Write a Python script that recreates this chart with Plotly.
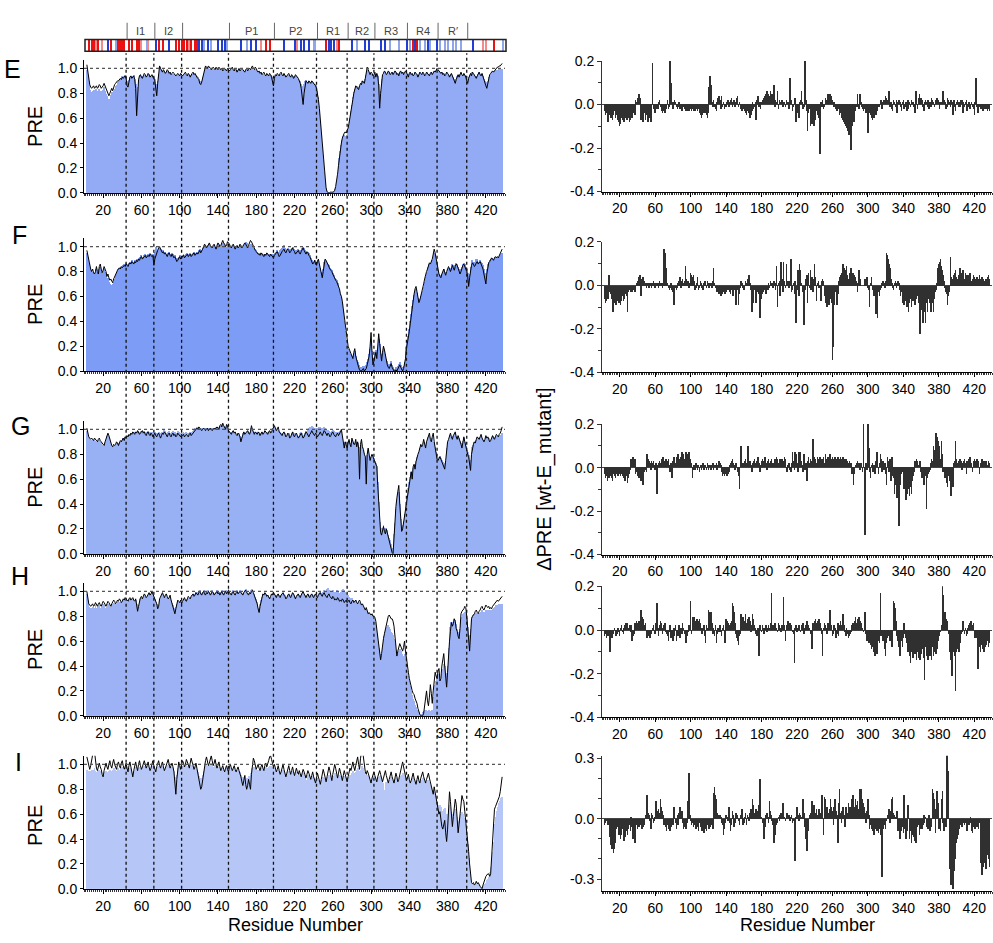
import plotly.graph_objects as go

# ---------------- DATA (values in hundredths, residues start at 3) ----------------
START_RES = 3
GAPS = [159, 177, 182, 188, 219, 233, 365]
BOUNDS = [44, 73, 102, 151, 198, 243, 275, 303, 337, 369, 400]
DOMAIN_LABELS = ["I1", "I2", "", "P1", "P2", "R1", "R2", "R3", "R4", "R\u2032"]
PANEL_LETTERS = ["E", "F", "G", "H", "I"]

RED = [4, 7, 10, 14, 27, 35, 37, 39, 41, 46, 49, 54, 57, 77, 82, 95, 98, 101, 104, 107, 111, 115, 117, 189, 193, 252, 266, 343, 347, 428]
LIGHT_RED = [12, 18, 59, 66, 109, 184, 222, 264, 416, 419]
BLUE = [24, 74, 88, 119, 122, 129, 139, 143, 146, 163, 174, 179, 208, 220, 226, 229, 234, 255, 257, 260, 279, 293, 297, 310, 314, 337, 345, 359, 368, 406]
LIGHT_BLUE = [32, 65, 125, 132, 149, 169, 239, 241, 284, 319, 328, 340, 350, 355, 361, 371, 376, 380, 385, 388, 393, 437]

LINE_E = [
103,97,92,87,85,84,85,86,84,85,
86,84,85,87,86,84,85,86,88,86,
84,82,80,78,80,83,84,82,85,87,
88,89,90,90,91,92,91,93,92,93,
94,92,86,85,90,93,94,92,93,94,
91,84,62,80,91,94,95,93,92,94,
96,95,93,94,96,95,93,94,95,93,
92,90,84,78,88,96,102,100,98,97,
99,98,96,97,99,98,96,97,95,96,
97,96,95,94,95,96,95,94,96,95,
94,95,96,97,95,94,96,95,93,95,
96,97,95,96,94,93,92,91,88,87,
89,93,97,100,102,101,100,102,101,100,
99,100,101,100,99,101,100,99,101,100,
99,100,98,99,100,99,98,100,99,98,
99,100,101,99,98,100,99,97,99,100,
98,99,100,99,98,97,99,100,98,99,
100,99,101,102,100,99,101,100,98,97,
98,96,97,95,96,97,95,94,96,95,
94,96,95,93,90,86,92,95,94,96,
95,94,96,97,95,94,96,95,93,94,
95,96,94,93,95,94,92,93,95,94,
93,92,90,88,84,78,71,80,88,90,
89,88,90,89,88,90,89,88,87,86,
84,80,75,68,58,48,38,28,18,10,
4,1,0,0,0,0,0,0,1,2,
5,9,15,22,30,36,40,44,47,48,
49,48,50,52,56,60,65,70,75,80,
83,86,85,84,83,86,88,87,90,89,
88,92,96,101,99,96,95,97,96,94,
95,97,93,96,94,86,68,80,92,95,
96,98,97,95,96,98,97,95,96,97,
95,96,98,97,95,96,94,97,98,96,
97,95,96,98,97,95,93,96,97,95,
96,94,95,97,96,95,93,95,97,96,
95,97,96,94,95,97,96,95,94,96,
97,95,96,98,97,99,100,99,98,97,
96,97,95,96,94,95,97,96,95,93,
95,96,94,92,90,88,91,94,95,93,
96,97,95,94,96,95,93,90,88,92,
95,96,94,97,96,95,93,92,94,96,
97,95,94,96,93,90,88,86,84,88,
92,95,96,97,98,97,98,99,100,101,
101,102,102,103,104]

BAR_E = [
99,95,88,83,81,80,82,83,80,82,
84,80,82,84,82,80,82,83,85,82,
80,78,76,73,76,79,81,79,82,84,
86,87,88,89,90,91,92,94,93,94,
95,93,90,88,91,93,94,93,94,95,
92,88,76,85,92,94,95,94,93,94,
95,95,94,94,95,96,94,94,95,94,
93,92,88,84,90,96,101,99,98,97,
98,98,97,97,98,98,97,97,96,96,
96,96,95,95,95,96,95,95,96,95,
95,95,96,96,95,95,96,95,94,95,
96,96,95,96,95,94,93,92,90,89,
90,93,96,99,101,100,100,101,100,100,
100,100,100,100,99,100,100,99,100,100,
99,99,98,99,100,99,98,99,99,98,
99,99,100,99,98,99,99,98,99,99,
98,99,99,99,98,98,99,99,98,99,
99,99,100,100,99,99,100,99,98,97,
97,96,97,95,96,96,95,95,96,95,
95,95,95,93,91,89,92,94,94,95,
95,94,95,96,95,94,95,95,94,94,
95,95,94,93,94,94,93,93,94,94,
93,92,91,90,88,86,84,88,90,91,
90,89,90,89,89,90,89,88,88,87,
86,82,77,68,58,48,38,27,17,9,
4,2,1,1,1,2,2,1,2,3,
5,9,14,20,28,34,39,43,46,47,
46,45,47,50,55,60,66,71,77,81,
84,86,86,85,84,86,88,88,90,90,
90,92,95,99,98,96,95,96,96,95,
95,96,94,95,94,88,70,82,92,95,
96,97,97,96,96,97,97,96,96,97,
96,96,97,97,96,96,95,97,97,96,
97,96,96,97,97,96,95,96,97,96,
96,95,95,97,96,96,95,95,97,96,
96,97,96,95,95,97,96,96,95,96,
97,96,96,97,97,98,99,99,98,97,
96,97,96,96,95,95,97,96,95,94,
95,96,95,93,92,91,92,94,95,94,
96,96,95,95,96,95,94,92,91,93,
95,96,95,97,96,95,94,93,94,96,
97,96,95,96,94,92,90,89,88,90,
93,95,96,97,98,97,98,98,99,99,
99,100,100,100,100]

LINE_F = [
97,93,88,84,82,80,82,79,78,80,
84,80,78,84,86,82,79,81,84,82,
80,76,78,75,73,74,72,71,74,76,
78,80,81,82,83,82,84,83,84,85,
84,86,85,84,86,87,86,88,87,86,
88,87,89,88,90,89,91,92,90,91,
92,93,91,92,93,92,94,93,92,93,
85,90,93,95,97,99,100,98,96,95,
96,94,95,93,92,94,95,93,92,94,
93,91,92,90,88,89,91,92,90,91,
92,93,91,92,93,94,92,93,94,92,
93,94,95,93,94,95,94,96,97,95,
96,98,100,102,101,99,100,102,103,101,
100,99,101,102,100,98,101,103,102,100,
101,104,105,103,102,100,101,104,103,102,
100,99,101,102,100,98,100,101,99,100,
102,101,99,100,101,103,102,100,99,101,
103,105,104,102,100,98,97,96,95,94,
94,93,95,94,93,92,94,93,95,94,
93,92,94,93,92,91,93,94,95,96,
94,92,93,95,96,97,98,96,95,97,
98,97,95,96,98,99,97,96,94,95,
96,97,95,94,96,98,99,97,95,94,
96,95,93,92,90,88,86,87,89,86,
85,88,90,86,82,78,75,80,88,90,
89,87,85,84,82,81,80,78,76,74,
73,72,70,68,66,62,60,56,50,42,
35,28,22,20,18,16,14,12,10,15,
18,12,8,5,3,1,0,0,1,2,
0,1,2,5,8,12,20,31,15,5,
8,12,15,10,18,30,22,12,8,15,
20,17,12,8,5,3,2,4,6,3,
1,0,0,1,0,2,4,5,3,1,
0,2,5,10,18,22,25,32,38,45,
52,58,62,66,68,64,58,55,57,60,
62,65,70,74,78,80,82,85,87,86,
88,90,94,98,95,90,85,80,78,76,
75,78,80,82,79,77,80,83,84,82,
80,82,85,83,81,84,86,85,83,80,
78,80,83,85,86,84,82,80,76,68,
75,82,85,87,86,84,85,87,88,86,
87,88,86,84,82,78,72,70,78,84,
87,88,90,91,90,89,91,92,91,92,
91,93,94,96,98]

BAR_F = [
95,92,87,83,81,79,80,78,77,79,
82,79,77,82,84,80,77,79,82,80,
78,74,75,72,70,66,69,70,72,74,
77,79,80,82,83,82,84,84,85,86,
86,87,86,85,87,88,87,89,88,87,
89,88,90,89,91,90,92,93,91,92,
93,94,92,93,94,93,95,94,93,94,
90,96,100,97,97,99,99,98,97,96,
97,95,96,94,93,95,96,94,93,95,
94,92,93,91,90,91,92,93,91,92,
93,94,92,93,94,95,93,94,95,93,
94,95,96,94,95,96,95,97,98,96,
97,99,100,101,100,99,100,101,102,100,
100,99,100,101,100,99,100,102,101,100,
100,102,103,102,101,100,100,102,102,101,
100,99,100,101,100,99,100,100,99,100,
101,100,99,100,101,102,104,103,100,100,
101,102,102,101,100,99,98,97,96,95,
95,94,95,95,94,93,94,94,95,94,
94,93,94,94,93,92,94,95,96,97,
96,95,97,98,99,100,101,99,97,98,
99,98,97,98,99,100,99,98,96,97,
97,98,97,96,97,99,100,99,97,96,
97,96,95,93,91,89,87,88,89,87,
86,88,89,86,83,80,78,82,88,89,
88,87,86,85,83,82,81,79,77,75,
74,73,71,69,66,62,60,56,48,40,
32,25,20,18,16,14,13,12,11,14,
16,12,9,7,5,3,2,2,3,4,
3,4,5,7,10,14,18,24,16,8,
10,14,17,12,18,26,22,14,10,16,
20,18,14,10,8,6,5,6,8,5,
3,2,2,3,2,4,6,7,5,3,
2,4,7,12,19,24,28,34,40,46,
52,57,61,64,66,63,59,56,58,60,
62,64,68,72,76,79,81,84,86,86,
87,89,92,95,93,88,84,80,78,77,
76,78,80,82,80,78,80,82,83,82,
81,83,86,85,83,85,87,86,84,82,
80,82,84,86,87,86,84,82,79,74,
78,84,87,89,88,87,88,90,90,88,
88,89,88,87,85,82,79,78,82,86,
88,89,90,91,90,90,91,92,91,92,
91,92,93,94,95]

LINE_G = [
101,97,94,93,92,93,92,91,93,92,
91,90,92,93,91,90,89,88,87,90,
93,96,97,95,92,89,87,86,88,87,
88,90,89,87,89,91,90,92,93,91,
94,93,95,94,96,95,97,96,98,97,
96,98,97,99,98,96,97,98,99,97,
98,96,95,97,98,96,95,97,96,94,
96,97,95,94,96,97,95,93,95,97,
96,98,97,95,94,96,97,95,94,96,
97,95,96,94,95,97,96,95,94,96,
95,96,94,95,96,95,94,96,97,95,
96,97,98,99,100,101,100,102,101,100,
99,100,101,100,99,100,101,99,100,101,
100,99,100,101,100,101,102,101,100,103,
104,102,105,103,101,100,104,103,99,98,
97,96,98,99,97,98,96,95,97,96,
94,90,93,97,98,96,97,98,99,97,
96,98,103,100,97,96,98,97,96,98,
97,95,97,98,96,97,99,98,97,96,
98,99,97,98,100,102,103,101,99,100,
102,98,97,96,95,97,98,96,94,95,
97,96,93,94,96,98,95,94,96,97,
95,93,94,96,97,95,93,94,96,98,
97,95,94,96,97,99,98,96,95,97,
96,94,95,97,98,96,95,97,99,98,
96,95,97,96,94,95,97,98,96,95,
94,96,97,95,96,98,100,94,88,85,
90,87,85,89,92,88,86,93,90,88,
88,92,86,90,85,60,88,92,86,84,
80,78,56,80,85,78,75,78,80,78,
76,74,72,70,55,38,22,17,15,18,
22,18,16,20,17,12,10,8,4,1,
0,15,25,38,45,52,55,40,25,18,
20,25,30,35,40,45,52,58,62,66,
60,70,72,68,74,78,80,82,85,88,
86,88,92,88,85,90,93,95,97,92,
90,94,97,90,85,80,76,75,77,78,
76,74,72,70,68,75,86,90,92,95,
97,94,92,95,96,98,94,92,95,93,
90,88,85,92,94,90,86,82,80,78,
72,67,80,86,88,90,89,92,94,93,
92,94,96,93,91,90,92,95,93,94,
92,90,91,93,95,93,92,94,96,95,
94,96,97,99,102]

BAR_G = [
99,96,93,92,91,92,91,90,92,91,
90,89,91,92,90,89,88,87,87,89,
92,95,96,94,91,88,87,86,87,87,
88,89,89,88,89,90,90,92,93,92,
94,94,95,95,96,96,97,97,98,98,
97,98,98,99,98,97,98,99,99,98,
99,98,97,98,99,98,97,98,98,96,
97,98,97,96,97,98,97,95,96,98,
98,100,99,97,96,98,99,97,96,98,
99,97,98,96,97,99,98,97,96,97,
97,98,96,97,98,97,96,97,98,97,
98,99,100,101,101,102,101,102,101,101,
100,101,101,101,100,101,101,100,101,101,
101,100,101,101,101,102,102,102,101,103,
103,102,104,103,102,101,103,102,100,99,
98,97,98,99,98,98,97,96,97,97,
95,92,94,97,98,97,97,98,99,98,
97,98,101,100,98,97,98,98,97,98,
98,96,97,98,97,97,99,98,98,97,
98,99,98,98,100,101,102,101,99,100,
101,99,98,97,96,97,98,97,95,96,
97,97,95,95,97,98,96,95,97,97,
96,95,95,97,98,97,95,96,97,99,
99,100,101,102,102,103,102,101,100,101,
101,100,101,102,102,101,100,101,102,101,
100,99,100,99,98,98,99,100,99,98,
97,98,98,97,98,99,99,95,90,87,
90,88,87,89,91,89,88,92,90,89,
88,90,87,89,86,70,86,90,86,84,
81,79,65,80,84,79,77,78,79,78,
77,75,73,71,58,42,26,21,19,21,
23,21,19,21,19,15,13,11,8,5,
4,16,25,36,43,48,50,40,28,22,
23,27,32,37,42,47,53,58,62,66,
62,69,72,70,75,78,80,82,85,87,
86,88,90,88,86,89,92,94,95,92,
91,93,95,90,86,82,78,77,78,79,
77,76,74,73,71,76,85,89,92,94,
96,94,93,95,96,97,95,93,95,93,
91,89,87,91,93,90,87,84,82,80,
76,72,81,86,88,90,90,92,94,93,
93,94,95,93,92,91,92,94,93,94,
93,91,92,93,95,94,93,94,95,95,
94,95,96,96,97]

LINE_H = [
100,95,90,89,88,89,90,88,89,91,
89,88,90,91,89,88,90,92,91,89,
88,90,92,91,89,88,90,91,93,92,
90,91,93,92,94,93,91,92,94,93,
95,94,93,92,94,95,93,94,95,93,
92,94,90,84,88,93,95,96,94,96,
98,97,95,96,98,99,97,98,100,98,
97,95,93,90,86,88,94,96,98,99,
97,95,97,98,96,94,95,97,93,90,
88,85,82,86,90,93,92,91,93,90,
92,94,95,93,92,94,96,95,94,96,
97,98,96,97,99,98,97,99,100,98,
97,99,100,98,97,99,98,100,99,97,
98,100,99,97,98,99,100,98,99,97,
99,100,98,97,99,100,98,99,101,99,
98,97,99,100,98,97,99,100,98,99,
100,99,98,97,99,100,101,99,98,97,
99,98,100,101,99,97,95,93,90,86,
83,88,92,96,98,97,99,98,96,97,
95,94,96,98,97,99,98,96,95,97,
98,96,95,97,98,99,97,96,94,95,
97,98,96,95,97,99,98,96,94,96,
97,98,96,95,97,99,100,98,96,95,
97,98,96,95,97,98,96,95,97,98,
96,95,97,98,99,97,96,98,99,97,
96,95,97,98,96,95,94,96,95,93,
94,93,95,94,92,93,92,94,93,91,
92,93,91,92,93,91,90,92,93,91,
92,93,91,90,92,93,91,89,90,88,
86,85,87,84,82,83,82,81,82,80,
80,79,76,70,64,58,52,45,50,58,
62,66,70,74,78,80,81,79,78,78,
76,72,65,55,48,52,55,58,56,54,
52,55,60,52,45,40,35,30,26,22,
20,18,17,14,12,10,6,3,1,0,
0,0,2,10,18,20,12,8,15,25,
18,10,20,27,35,32,30,36,38,28,
30,40,45,50,40,30,23,35,50,60,
68,75,72,74,78,76,70,68,64,62,
70,82,84,85,86,88,87,80,70,60,
52,65,78,80,81,82,84,85,83,82,
84,85,87,88,86,85,87,89,88,87,
88,86,87,86,88,89,90,91,92,93,
92,93,94,95,96]

BAR_H = [
98,93,88,87,86,87,88,86,87,89,
87,86,88,89,87,86,88,90,89,87,
86,88,90,89,88,87,89,90,91,90,
89,90,92,91,92,92,91,92,93,92,
94,93,92,91,93,94,93,93,94,92,
91,93,90,87,89,92,94,95,94,95,
97,96,95,96,97,98,97,97,99,97,
96,94,92,90,88,89,93,95,97,98,
96,95,96,97,96,94,95,96,93,91,
89,87,86,88,90,92,92,91,92,90,
92,93,94,93,92,94,95,95,94,96,
97,98,97,98,100,100,99,100,101,99,
98,100,101,99,98,100,99,101,100,98,
99,101,100,98,99,100,101,99,100,98,
100,101,99,98,100,101,99,100,102,100,
99,98,100,101,99,98,100,101,99,100,
101,100,99,98,100,101,102,100,99,98,
100,99,101,102,100,98,96,94,92,89,
87,90,93,96,98,97,99,98,97,97,
96,95,96,98,97,99,98,97,96,97,
98,97,96,97,98,99,98,97,95,96,
97,98,97,96,97,99,98,97,95,96,
97,98,97,96,97,99,100,98,97,96,
97,98,97,96,97,98,97,96,97,98,
97,96,97,99,100,99,98,100,101,99,
100,102,103,101,100,99,100,101,100,99,
100,101,100,99,98,99,100,101,102,101,
100,99,98,97,96,95,94,95,93,92,
92,93,91,90,92,92,91,89,90,88,
86,85,86,84,83,83,82,81,81,79,
78,76,72,66,60,55,50,45,48,55,
60,64,68,70,72,73,72,70,68,67,
65,62,58,52,48,50,52,54,52,50,
48,48,50,45,40,36,32,28,24,20,
17,14,12,9,7,5,4,3,2,2,
2,3,4,5,5,4,3,4,5,4,
4,5,8,15,25,28,30,33,34,30,
30,34,38,42,40,35,30,40,55,65,
72,76,75,76,78,77,74,70,68,66,
70,78,80,82,83,84,83,79,72,65,
62,70,78,80,81,82,82,83,82,81,
82,83,84,85,84,83,84,85,85,84,
85,84,85,84,86,87,87,88,89,89,
89,90,90,90,90]

LINE_I = [
106,102,98,96,99,103,108,112,110,100,
97,95,99,101,98,96,92,90,95,99,
101,98,96,100,103,99,97,101,104,100,
98,96,100,102,99,97,101,103,99,96,
98,101,97,94,99,102,98,93,90,95,
99,102,98,95,100,103,99,96,98,101,
103,100,97,99,102,98,95,97,100,103,
99,96,94,98,101,103,99,97,100,102,
98,95,97,100,103,104,100,97,99,101,
98,94,85,76,88,98,102,99,96,100,
103,101,98,100,104,102,99,97,101,105,
102,99,96,98,101,97,93,88,84,80,
82,88,95,99,103,106,102,99,101,104,
107,103,99,101,104,100,97,99,102,98,
95,97,99,96,94,97,99,96,94,98,
100,97,95,97,99,96,94,96,98,95,
93,90,86,83,87,91,84,80,83,88,
84,80,92,100,105,103,99,96,98,100,
97,95,98,100,97,95,99,101,98,100,
103,106,107,104,101,98,100,97,94,96,
99,95,92,94,97,100,96,93,90,93,
96,99,95,92,95,98,94,91,94,97,
94,92,95,93,90,93,96,94,91,89,
92,95,93,90,88,91,94,90,87,85,
89,93,90,86,84,88,92,96,93,89,
86,90,94,98,95,91,87,92,96,100,
97,93,89,93,97,94,90,87,91,95,
92,88,86,90,94,97,95,99,102,98,
95,99,103,106,100,96,105,110,114,106,
98,94,92,95,93,90,88,85,89,92,
94,91,88,86,90,93,95,92,88,86,
89,92,95,91,87,85,88,91,94,90,
87,85,89,93,90,86,88,92,96,99,
102,98,94,90,87,89,92,88,85,87,
90,93,89,86,84,88,91,87,85,89,
92,94,90,87,85,88,91,93,89,86,
84,80,76,82,78,72,68,64,60,62,
55,50,48,52,55,45,38,48,62,78,
70,60,50,58,65,72,68,55,45,52,
62,70,75,72,70,62,55,48,42,30,
20,10,5,4,5,3,4,6,4,5,
3,2,1,0,3,6,8,10,11,12,
12,10,12,25,45,58,64,66,68,70,
72,74,78,84,90]

BAR_I = [
96,95,94,95,95,96,95,96,97,95,
94,93,95,96,95,94,91,90,92,94,
95,94,94,95,96,95,94,96,97,96,
95,94,96,97,96,95,97,98,96,95,
96,97,96,94,96,97,96,93,92,94,
96,98,96,95,97,98,97,96,97,98,
99,98,96,97,99,97,95,96,98,99,
97,95,94,96,98,99,97,96,98,99,
97,95,96,98,99,100,98,96,97,98,
97,95,90,86,92,97,99,98,96,98,
99,98,97,98,100,99,97,96,98,100,
99,98,96,97,98,96,94,91,89,88,
89,92,95,97,99,100,99,98,99,100,
101,99,97,98,100,98,96,97,98,96,
95,96,97,95,94,96,97,95,94,96,
97,96,95,96,97,96,94,95,96,95,
94,92,90,88,90,92,89,87,89,91,
89,87,93,97,99,98,97,95,96,97,
96,95,96,97,96,95,97,98,96,97,
98,99,99,98,97,96,97,96,94,95,
96,94,92,93,95,96,94,92,90,92,
94,95,93,91,93,95,93,90,92,94,
92,91,93,92,89,91,93,92,90,88,
90,92,91,89,87,89,91,89,86,85,
87,89,88,85,84,86,88,90,89,87,
86,88,90,92,91,89,87,89,91,93,
92,90,88,90,92,91,89,87,89,91,
90,87,86,88,90,92,91,93,95,93,
92,94,96,97,95,93,96,98,99,97,
94,92,91,92,91,89,88,86,88,90,
91,89,87,86,88,90,91,89,87,85,
76,70,80,86,85,84,86,88,90,88,
86,85,87,89,88,86,87,89,91,92,
93,92,90,88,86,87,89,87,85,86,
88,89,87,85,84,86,88,86,85,87,
88,89,87,85,84,86,87,88,86,84,
82,79,76,78,75,72,70,68,67,68,
66,63,62,64,65,60,56,60,64,68,
66,62,58,60,62,64,62,58,54,55,
57,60,62,60,57,52,47,42,36,25,
12,5,3,3,4,2,3,4,3,4,
3,2,2,1,2,3,4,5,7,8,
10,14,18,24,30,38,45,52,58,63,
66,69,71,73,74]

DELTA_E = [
-3,-5,-4,-6,-8,-5,-3,-6,-4,-7,
-5,-3,-6,-4,-5,-7,-8,-10,-9,-6,
-7,-5,-8,-6,-4,-7,-5,-6,-8,-7,
-5,-6,-4,-3,-5,2,1,3,2,5,
3,-7,-5,-8,-6,-4,-7,-3,-5,-8,
-4,-6,-8,-3,19,-2,-3,-4,-2,-1,
-2,1,2,-1,-3,-4,-2,-3,-4,-2,
-1,2,-2,-1,20,10,1,-2,1,2,
1,-1,-2,-1,1,-2,-1,-3,-2,-1,
-2,-3,-2,-3,-2,-3,-1,-2,-3,-2,
-3,-2,-3,-2,-1,-3,-2,-4,-5,-6,
-5,-4,-3,-4,-3,-5,-6,-4,8,13,
9,1,-1,2,-1,-2,-3,1,3,4,
2,-2,4,-1,1,-2,-1,-1,1,2,
-1,1,2,3,-1,1,2,-1,1,3,
4,-1,1,-1,-2,-3,-2,-1,-3,-4,
-5,-3,-2,-4,-6,-5,-3,1,-2,-1,
1,-7,2,4,-1,1,-2,1,2,3,
2,4,5,6,3,5,4,6,3,5,
5,9,-1,2,1,6,-2,2,1,1,
2,-1,1,1,-1,2,1,1,-2,12,
1,2,-3,-1,1,3,-8,-2,-4,-6,
1,2,6,1,-2,-1,20,2,-3,-12,
-4,-2,-10,-8,-9,-6,-10,-5,-7,-3,
-5,-2,-6,-23,1,-1,2,-2,-1,3,
1,2,5,4,5,3,4,2,-1,1,
-1,-2,-3,-1,-2,-5,-4,-5,-6,-7,
-8,-9,-10,-11,-12,-14,-13,-14,-21,-10,
-8,-6,-8,-3,-1,5,-1,-2,5,1,
-1,-2,-3,-1,-2,-4,-3,-13,-2,-4,
-5,-6,-7,-5,-6,-4,-5,-3,-2,-1,
-1,1,2,-2,1,2,1,4,3,2,
2,6,-1,1,-2,-3,2,1,-1,2,
-4,1,2,1,-1,-3,1,2,-2,-1,
1,-3,2,-2,1,-1,2,1,1,-1,
-4,6,2,-2,3,5,2,3,2,-1,
-3,1,2,1,-1,2,-2,1,-1,3,
2,1,-1,2,1,3,2,1,-2,1,
1,2,6,2,1,-2,-1,3,2,1,
-1,2,1,-5,2,-1,-3,1,2,-1,
1,-1,2,2,-4,1,-1,1,2,-3,
-1,1,-2,-1,1,-1,-2,-5,1,12,
-1,-4,-3,-1,-2,-1,-2,-3,-2,-1,
-2,-1,-3,-2,-3]

DELTA_F = [
-6,-8,-7,-5,-6,5,-3,-4,-6,-12,
-12,-8,-6,-9,-7,-5,-8,-6,-9,-7,
-5,-7,-6,-4,-3,-5,-12,-3,-2,-3,
-2,-3,-2,-1,-3,-2,1,2,4,3,
5,-5,3,4,3,2,1,-1,1,1,
-1,1,1,-1,1,2,1,-1,1,1,
1,-1,2,1,1,-1,1,17,15,8,
8,1,-1,-2,-1,1,-2,-3,-9,-2,
-1,-2,-1,1,2,4,-1,2,3,1,
2,9,3,1,2,-1,1,6,5,4,
5,2,-2,-1,1,4,-2,-1,2,1,
-1,-2,1,2,1,-1,2,1,-1,1,
1,-1,2,8,1,-1,-2,-3,-2,-4,
-3,-5,-2,-4,-3,-2,-4,-3,-2,-1,
-2,-3,-4,-2,-3,-5,-2,-1,-9,-3,
-2,-9,-4,-1,2,1,-1,-2,-1,2,
1,2,3,5,1,-2,-12,-3,-8,-2,
-2,-8,-3,-2,-4,-15,-2,-6,-4,-3,
-1,-2,-4,-1,-2,1,-1,2,1,1,
-1,2,1,-2,9,-10,1,2,-5,11,
3,-3,11,2,-1,10,1,2,-1,2,
12,-3,-2,1,-4,2,-17,-2,7,-5,
10,7,1,-3,-1,-18,-2,3,5,-8,
6,-1,7,-2,4,-3,3,10,4,-7,
1,2,-1,-1,-7,2,3,2,-5,-6,
-8,-10,-7,-9,-6,-5,-8,-34,-28,-9,
-3,-2,-9,-4,2,4,5,3,6,10,
8,4,7,9,5,3,2,6,8,4,
6,3,5,4,2,-3,1,7,3,0,
0,0,0,0,3,2,4,-1,-2,-10,
1,4,-1,-2,-5,-4,-13,-6,-15,-3,
-5,-2,-1,1,2,1,-1,2,15,14,
12,10,8,3,1,-1,-2,1,2,-1,
1,2,1,-2,-5,-3,-8,-6,-9,-4,
-7,-10,-5,-12,-8,-6,-10,-4,-7,-5,
-9,-6,-3,-5,-8,-10,-22,-11,-6,-17,
-12,-10,-17,-8,-12,-6,-4,-8,-12,-9,
-8,-12,-6,-3,-2,1,8,10,11,12,
9,7,5,2,-1,-3,-4,-9,-5,-3,
13,4,3,2,5,6,7,4,3,2,
5,8,6,4,7,5,3,6,4,5,
3,5,6,4,2,3,5,4,2,3,
4,2,3,5,3,2,4,3,2,1,
3,2,4,5,3]

DELTA_G = [
-3,-5,-4,-6,-3,-5,-4,-2,-5,-6,
-3,-4,-5,-2,-3,-4,-3,-2,-4,-3,
-4,-5,-3,-6,-4,-2,-7,-5,-3,-1,
4,3,5,2,4,-3,-2,-4,-3,-5,
-4,-6,-3,-8,-5,-2,-1,-2,6,4,
3,2,-1,3,2,3,1,-1,2,-12,
1,2,3,2,4,3,5,2,3,4,
2,3,4,1,-2,2,-5,3,5,4,
2,5,3,6,4,2,5,7,3,6,
4,5,7,3,6,7,4,1,2,-5,
-1,1,-1,2,1,-1,1,-2,1,-1,
1,2,-1,1,1,-1,2,-1,1,1,
-1,1,2,-1,1,1,2,-1,1,3,
2,1,-2,-4,-3,-4,-3,-2,-4,-3,
-2,1,2,3,4,2,1,-1,2,1,
-2,-4,-10,3,10,2,1,2,3,4,
2,3,10,2,3,1,-2,2,3,4,
2,1,3,5,2,-2,1,3,4,2,
3,5,2,-1,3,4,2,3,4,2,
1,2,4,3,5,4,2,3,4,3,
4,2,3,5,4,-1,-2,1,2,-1,
-2,2,7,3,-1,7,6,2,-2,7,
5,7,3,1,-2,6,-1,2,-6,3,
5,2,4,1,3,13,3,5,4,2,
5,4,3,5,2,4,3,5,2,6,
4,3,5,4,6,5,4,5,3,4,
5,3,4,5,2,4,5,3,4,5,
3,4,2,4,3,2,3,1,2,-3,
-2,-8,-3,1,2,3,1,2,-1,2,
1,-2,20,-1,-31,2,-1,20,9,-2,
-5,1,2,-2,1,-3,3,7,5,-3,
2,6,4,-2,3,-1,2,-3,-8,5,
3,-2,4,-6,5,-4,-5,-12,-8,-14,
-10,-14,-27,-8,-5,-3,-2,-4,-10,-6,
-15,-12,-8,-10,-13,-9,-12,-6,-4,-2,
3,2,4,3,1,2,3,-2,-5,-4,
-8,-6,-4,-19,-5,-3,-2,-1,2,4,
3,10,8,12,16,14,12,10,8,4,
12,6,-2,-1,-5,-3,-7,-9,-4,-6,
-8,-13,-5,-9,2,3,12,4,2,3,
2,4,3,-1,2,3,4,2,-3,3,
2,4,5,3,2,-2,3,4,2,3,
4,2,3,-3,2,3,4,2,3,2,
3,2,1,3,2]

DELTA_H = [
-3,-2,-4,-3,-2,-3,-10,-4,-3,-4,
-2,1,-1,-3,-2,1,-1,-3,1,2,
-1,-2,1,2,3,2,3,1,2,-1,
2,-5,-3,-2,3,2,4,3,2,4,
3,9,6,5,4,2,3,-1,-4,-2,
-3,-4,-2,-1,1,2,-1,-2,3,12,
1,-3,2,4,3,-2,1,2,3,-1,
-2,-3,-5,-1,2,-4,-2,-5,1,-3,
2,-5,-1,-3,2,-4,1,-2,3,1,
-2,-5,-6,-3,-1,2,1,13,-2,6,
5,6,4,3,5,2,4,5,3,1,
-2,1,2,-3,-6,2,1,9,8,6,
8,3,-2,1,-3,2,-6,-2,1,-1,
2,-1,-3,1,2,-2,-6,5,4,3,
2,1,3,4,12,11,8,3,-2,-4,
-5,-7,-3,-2,7,5,6,3,4,7,
3,5,2,6,4,-1,2,7,5,2,
1,-2,-3,1,-12,2,1,-1,2,1,
-2,1,2,-1,1,2,1,3,17,2,
1,2,3,2,1,-1,3,2,1,-1,
2,1,15,2,-5,1,2,4,2,3,
1,2,-1,-2,-15,1,2,-1,1,2,
1,-1,2,1,3,-2,1,2,4,3,
2,1,-2,-1,-9,3,1,4,5,3,
4,2,5,3,1,-2,-12,1,3,2,
1,-2,3,2,9,4,2,-3,-2,2,
1,-4,-2,3,-3,2,4,2,1,7,
2,-1,-3,1,-2,-4,-3,-2,-1,2,
3,2,4,6,3,2,5,6,4,2,
3,1,-1,2,8,-2,-5,-4,-6,-5,
-7,-9,-6,-8,-10,-12,-9,-11,-8,-5,
-6,17,-3,-2,-5,-4,-9,-12,-6,-4,
-3,-2,-5,-4,-8,-3,13,12,10,4,
-3,-5,-8,-12,-6,-5,-8,-4,3,-2,
-4,-6,-10,-8,-12,-15,-10,-9,-13,-8,
-11,-6,-14,-10,-13,-9,-14,-11,-6,-9,
-13,-23,-8,-12,-10,-14,-9,-12,-10,-14,
-8,-12,-10,-6,-11,-9,-5,-3,-2,-1,
2,20,16,6,8,5,4,3,-2,-10,
-8,-14,-21,-10,-9,-12,-28,-10,-9,-8,
-10,-6,-2,-1,4,2,-2,1,-3,-2,
1,2,3,4,4,2,3,-1,-4,-2,
-4,-18,-6,-8,-10,-6,-7,-9,-10,-8,
-6,-7,-5,-8,-6]

DELTA_I = [
-3,-2,-1,-2,-3,-2,-9,-13,-15,-14,
-17,-15,-12,-5,-2,-4,-8,-6,-10,-8,
-5,-7,-11,-9,-6,-4,-8,-5,-3,-6,
1,-4,-10,-8,-12,-6,-3,-5,-2,-4,
-3,-2,-5,-4,-1,-3,2,7,12,3,
2,-1,-5,3,2,-2,-1,1,9,4,
2,5,3,10,6,4,2,-3,-1,-4,
-6,-3,-5,-2,-6,-4,-2,-3,6,2,
-2,-5,2,-3,3,6,1,4,-2,-5,
-4,-3,-5,-2,9,23,2,-1,-3,-2,
-4,-3,-2,-5,-4,-3,-6,-2,-4,-5,
-6,-3,-7,-5,-4,-6,-3,-2,-5,-4,
-3,-2,-5,13,16,12,10,3,2,1,
2,1,-2,-3,-8,-5,-2,2,1,-1,
6,-2,-6,-3,4,2,-4,-2,3,1,
2,-1,-3,1,2,5,-3,-2,1,3,
-3,2,1,-1,3,5,4,10,7,3,
2,5,4,2,7,20,2,1,-2,-1,
-10,-4,2,3,1,-2,9,4,2,-1,
-3,-12,-8,-5,-3,-2,1,-1,2,3,
2,8,3,1,-1,2,3,1,2,-1,
1,2,-2,-1,-3,-21,1,6,2,-1,
3,2,1,4,10,3,-4,-10,-16,-12,
-6,2,3,1,9,5,7,4,3,5,
2,4,5,3,2,12,4,-8,11,10,
4,6,3,2,5,10,6,4,-3,6,
10,4,2,-12,8,15,3,-2,4,6,
2,-4,6,5,3,8,4,6,2,10,
12,8,6,10,7,9,5,4,15,10,
15,10,8,6,3,-2,4,10,2,-5,
-3,-5,-4,-6,-8,-5,-3,-6,-4,-7,
-5,-8,-6,-29,-5,-3,-2,-5,-1,2,
3,5,-2,4,10,11,3,2,1,4,
4,-6,-3,-10,-8,-6,-4,-7,12,-5,
-10,-6,7,5,-10,-6,-12,-8,-5,-9,
-11,-12,-6,-4,-3,-8,-5,-2,-5,-3,
2,-2,1,-4,-3,-5,2,-6,-4,-3,
15,13,10,-7,5,14,8,-5,-3,-6,
10,14,-2,-6,-3,-4,32,30,24,-25,
-28,-33,-30,-35,-26,-20,-15,-12,-10,-8,
-5,-3,-2,-4,-2,-1,-3,-2,-4,-6,
-2,-3,-2,1,-6,-7,-4,-3,-5,-2,
-4,-3,-5,-2,-22,-26,-28,-24,-22,-20,
-25,-22,-18,-20,-24]

BAR_COLORS = ["#93aaf4", "#7d9cf6", "#98b0f4", "#9cb2f4", "#b6c7f7"]

# ---------------- LAYOUT GEOMETRY ----------------
W, H = 993, 943
def fx(px):
    return px / W
def fy(py):
    return 1 - py / H

LEFT_X = [fx(84), fx(505)]
RIGHT_X = [fx(602), fx(992)]
LEFT_PX = [(52.6, 188), (233.9, 369.3), (419.8, 555.2), (584.6, 720), (760.6, 896)]
RIGHT_PX = [(54, 186.7), (237.7, 370.7), (423.3, 556), (588.3, 721.7), (760.7, 898.3)]
RIGHT_RANGES = [[-0.4, 0.2]] * 4 + [[-0.36, 0.313]]
RIGHT_TICKS = [[-0.4, -0.2, 0.0, 0.2]] * 4 + [[-0.3, 0.0, 0.3]]
RIGHT_MINOR = [[-0.3, -0.1, 0.1]] * 4 + [[-0.2, -0.1, 0.1, 0.2]]

FONT = "Liberation Sans, Arial, Helvetica, sans-serif"

def sfx(n):
    return "" if n == 1 else str(n)

def note(text, px, py, size, angle=0, color="black"):
    return dict(text=text, x=fx(px), y=fy(py), xref="paper", yref="paper",
                xanchor="center", yanchor="middle", showarrow=False, textangle=angle,
                font=dict(size=size, color=color, family=FONT))

fig = go.Figure()
layout = {}
shapes = []
annotations = []

xaxis_common = dict(
    range=[0, 440], showline=True, linecolor="black", linewidth=1,
    ticks="outside", ticklen=4, tickwidth=1, tickcolor="black",
    tick0=20, dtick=40, tickfont=dict(size=14, color="black", family=FONT),
    showgrid=False, zeroline=False,
    minor=dict(ticks="outside", ticklen=2, dtick=2, tick0=0, tickcolor="#333", tickwidth=0.6, showgrid=False),
)

panels = [
    (BAR_E, LINE_E, DELTA_E), (BAR_F, LINE_F, DELTA_F), (BAR_G, LINE_G, DELTA_G),
    (BAR_H, LINE_H, DELTA_H), (BAR_I, LINE_I, DELTA_I),
]

for i, (bars, line, delta) in enumerate(panels):
    nL, nR = i + 1, i + 6
    res_b = list(range(START_RES, START_RES + len(bars)))
    yb = [None if r in GAPS else v / 100 for r, v in zip(res_b, bars)]
    fig.add_trace(go.Bar(x=res_b, y=yb, width=1.0,
                         marker=dict(color=BAR_COLORS[i], line=dict(width=0)),
                         xaxis="x" + sfx(nL), yaxis="y" + sfx(nL), hoverinfo="skip"))
    res_l = list(range(START_RES, START_RES + len(line)))
    fig.add_trace(go.Scatter(x=res_l, y=[v / 100 for v in line], mode="lines",
                             line=dict(color="black", width=1),
                             xaxis="x" + sfx(nL), yaxis="y" + sfx(nL), hoverinfo="skip"))
    res_d = list(range(START_RES, START_RES + len(delta)))
    fig.add_trace(go.Bar(x=res_d, y=[v / 100 for v in delta], width=0.6,
                         marker=dict(color="#303030", line=dict(width=0)),
                         xaxis="x" + sfx(nR), yaxis="y" + sfx(nR), hoverinfo="skip"))

    top, bot = LEFT_PX[i]
    layout["xaxis" + sfx(nL)] = dict(xaxis_common, domain=LEFT_X, anchor="y" + sfx(nL))
    layout["yaxis" + sfx(nL)] = dict(
        domain=[fy(bot), fy(top)], range=[0, 1.07], anchor="x" + sfx(nL),
        showline=True, linecolor="black", linewidth=1, ticks="outside", ticklen=3,
        tickcolor="black", tickvals=[0, 0.2, 0.4, 0.6, 0.8, 1.0], tickformat=".1f",
        tickfont=dict(size=14, color="black", family=FONT), showgrid=False, zeroline=False)

    rtop, rbot = RIGHT_PX[i]
    layout["xaxis" + sfx(nR)] = dict(xaxis_common, domain=RIGHT_X, anchor="y" + sfx(nR))
    tv = RIGHT_TICKS[i]
    layout["yaxis" + sfx(nR)] = dict(
        domain=[fy(rbot), fy(rtop)], range=RIGHT_RANGES[i], anchor="x" + sfx(nR),
        showline=True, linecolor="#333", linewidth=1, ticks="outside", ticklen=4,
        tickcolor="#333", tickmode="array", tickvals=tv, ticktext=["%.1f" % v for v in tv],
        tickfont=dict(size=14, color="black", family=FONT), showgrid=False,
        zeroline=True, zerolinecolor="#444", zerolinewidth=0.8,
        minor=dict(tickmode="array", tickvals=RIGHT_MINOR[i], ticks="outside", ticklen=3, tickcolor="#333"))

    # dotted line at PRE = 1.0
    shapes.append(dict(type="line", xref="x%s domain" % sfx(nL), x0=0, x1=1,
                       yref="y" + sfx(nL), y0=1.0, y1=1.0,
                       line=dict(color="#555", width=1.1, dash="dot")))

    # panel letter + PRE label
    annotations.append(note(PANEL_LETTERS[i], [12, 19, 20, 20, 18][i], [62, 231, 425, 578, 767][i], 25))
    annotations.append(note("PRE", 35, [121, 302, 488, 653, 832][i], 20, angle=-90))

# ---------------- domain header ----------------
layout["xaxis11"] = dict(domain=[fx(85), fx(506)], range=[0, 440], visible=False, anchor="y11")
layout["yaxis11"] = dict(domain=[fy(44), fy(32)], range=[0, 1], visible=False, anchor="x11")
for pos, col in [(LIGHT_BLUE, "#8fa6ea"), (LIGHT_RED, "#f48a8a"), (BLUE, "#1f3fd8"), (RED, "#ee1111")]:
    fig.add_trace(go.Bar(x=pos, y=[1] * len(pos), width=1.3, marker=dict(color=col, line=dict(width=0)),
                         xaxis="x11", yaxis="y11", hoverinfo="skip"))
shapes.append(dict(type="rect", xref="paper", yref="paper", x0=fx(85), x1=fx(506), y0=fy(44), y1=fy(32),
                   line=dict(color="#222", width=1.5)))
for b in BOUNDS:
    shapes.append(dict(type="line", xref="x11", x0=b, x1=b, yref="paper", y0=fy(32), y1=fy(15),
                       line=dict(color="#666", width=1)))
    shapes.append(dict(type="line", xref="x", x0=b, x1=b, yref="paper", y0=fy(896), y1=fy(46),
                       line=dict(color="#111", width=1.3, dash="3px,3px")))
for a, b, lab in zip(BOUNDS[:-1], BOUNDS[1:], DOMAIN_LABELS):
    if lab:
        annotations.append(dict(text=lab, x=(a + b) / 2, y=fy(23), xref="x11", yref="paper",
                                xanchor="center", yanchor="middle", showarrow=False,
                                font=dict(size=11, color="#444", family=FONT)))

# ---------------- titles ----------------
annotations.append(note("Residue Number", 295, 933, 18))
annotations.append(note("Residue Number", 807, 933, 18))
annotations.append(note("\u0394PRE [wt-E_mutant]", 545, 480, 20, angle=-90))

fig.update_layout(
    width=W, height=H, margin=dict(l=0, r=0, t=0, b=0),
    paper_bgcolor="white", plot_bgcolor="white", showlegend=False,
    barmode="overlay", bargap=0, font=dict(family=FONT, color="black"),
    shapes=shapes, annotations=annotations, hovermode=False, **layout)

fig.write_html("out.html")
